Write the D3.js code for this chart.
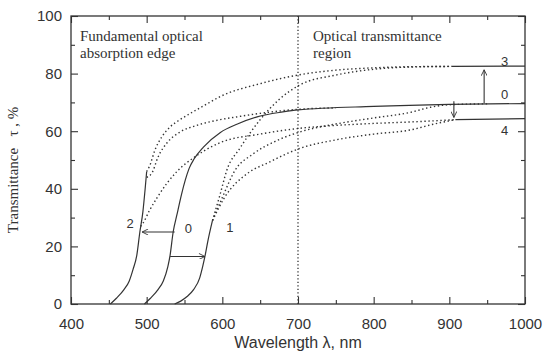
<!DOCTYPE html>
<html>
<head>
<meta charset="utf-8">
<script src="https://cdn.jsdelivr.net/npm/d3@7"></script>
<style>
  body { margin: 0; background: #fff; }
  svg { display: block; }
  .tick-label { font-family: "Liberation Sans", Arial, sans-serif; font-size: 15px; fill: #333; }
  .serif { font-family: "Liberation Serif", "DejaVu Serif", serif; fill: #333; }
</style>
</head>
<body>
<script>
// x ticks and y ticks
var xTicks = [400, 500, 600, 700, 800, 900, 1000];
var yTicks = [0, 20, 40, 60, 80, 100];

// solid parts [wavelength nm, transmittance %]
var curve0 = [[497,0],[505,2],[515,5],[522,8],[528,13],[531,17],[535,25],[540,31],[546,38],[551,43],[556,47],[563,50.5],[575,54.5],[597,59.5],[620,62.5],[646,65],[680,66.7],[700,67.4],[800,68.6],[900,69.3],[1000,69.6]];
var curve2 = [[452,0],[460,2],[470,5],[477,8],[482,12],[487,17],[491,25],[495,32],[498,40],[500,46]];
var curve1 = [[537,0],[545,1],[553,2.5],[562,5],[570,9],[574,13],[577,16.5],[581,22],[587,29]];
var curve3 = [[903,82.5],[1000,82.6]];
var curve4 = [[908,64],[1000,64.4]];

// dotted branches
var branch2to3 = [[500,46],[504,48],[511,53.5],[520,58],[531,61.5],[544,64],[561,66.7],[580,69.5],[597,72],[650,76.5],[700,79.5],[750,81.2],[800,82],[850,82.4],[903,82.5]];
var branch2to0 = [[500,44],[507,45.5],[515,51],[527,56],[544,59.7],[566,62],[597,64],[620,65],[650,66.2],[700,67.6],[750,68.1]];
var branch2to4 = [[492,27],[495,28],[504,32.6],[514,37],[527,42],[540,46],[566,51.5],[597,56],[650,59],[702,61],[750,62],[800,62.7],[848,63.2],[908,64]];
var branch1to3 = [[587,29],[597,38],[606,46.5],[623,54],[650,64],[675,71],[702,76],[750,79.5],[800,81.5],[850,82.3],[903,82.5]];
var branch1to0 = [[587,29],[600,37],[617,46.5],[640,52],[670,56.5],[702,59.7],[750,62.5],[800,64.6],[848,66.5],[875,68.3],[900,69.2],[950,69.5]];
var branch1to4 = [[587,29],[603,37],[634,45.5],[660,49],[702,54],[750,57],[800,59],[848,60.4],[880,62.5],[908,64]];

var arrows = [[537,25,494,25],[531,16.5,577,16.5],[946,69.7,946,81.3],[906,70.4,906,64.8]];
var curveLabels = [['2',478,28],['0',555,26.4],['1',610,26.7],['3',973,84.3],['0',973,72.6],['4',973,60.4]];

var margin = {top: 16, right: 19, bottom: 49, left: 71};
var width = 544 - margin.left - margin.right;
var height = 353 - margin.top - margin.bottom;
var ink = '#333';

var svg = d3.select('body').append('svg')
  .attr('width', 544)
  .attr('height', 353);

var g = svg.append('g')
  .attr('transform', 'translate(' + margin.left + ',' + margin.top + ')');

var x = d3.scaleLinear().domain([400, 1000]).range([0, width]);
var y = d3.scaleLinear().domain([0, 100]).range([height, 0]);

// axes with inward ticks
function styleAxis(sel) {
  sel.select('.domain').remove();
  sel.selectAll('line').attr('stroke', ink).attr('stroke-width', 1.1);
}
var xMinor = d3.range(450, 1000, 100);
var yMinor = d3.range(10, 100, 20);

g.append('g').attr('transform', 'translate(0,' + height + ')')
  .call(d3.axisBottom(x).tickValues(xTicks).tickSize(-7).tickPadding(14).tickFormat(d3.format('d')))
  .call(styleAxis)
  .call(function(s) { s.selectAll('text').attr('class', 'tick-label').attr('font-size', null).attr('font-family', null); });
g.append('g').attr('transform', 'translate(0,' + height + ')')
  .call(d3.axisBottom(x).tickValues(xMinor).tickSize(-4).tickFormat(''))
  .call(styleAxis);
g.append('g')
  .call(d3.axisTop(x).tickValues(xTicks).tickSize(-7).tickFormat(''))
  .call(styleAxis);
g.append('g')
  .call(d3.axisTop(x).tickValues(xMinor).tickSize(-4).tickFormat(''))
  .call(styleAxis);

g.append('g')
  .call(d3.axisLeft(y).tickValues(yTicks).tickSize(-7).tickPadding(9))
  .call(styleAxis)
  .call(function(s) { s.selectAll('text').attr('class', 'tick-label').attr('font-size', null).attr('font-family', null); });
g.append('g')
  .call(d3.axisLeft(y).tickValues(yMinor).tickSize(-4).tickFormat(''))
  .call(styleAxis);
g.append('g').attr('transform', 'translate(' + width + ',0)')
  .call(d3.axisRight(y).tickValues(yTicks).tickSize(-7).tickFormat(''))
  .call(styleAxis);
g.append('g').attr('transform', 'translate(' + width + ',0)')
  .call(d3.axisRight(y).tickValues(yMinor).tickSize(-4).tickFormat(''))
  .call(styleAxis);

// frame
g.append('rect')
  .attr('width', width).attr('height', height)
  .attr('fill', 'none').attr('stroke', ink).attr('stroke-width', 1.3);

// 700 nm divider
g.append('line')
  .attr('x1', x(700)).attr('x2', x(700))
  .attr('y1', y(0)).attr('y2', y(100))
  .attr('stroke', ink).attr('stroke-width', 1.3)
  .attr('stroke-dasharray', '1.3,2.2');

var line = d3.line()
  .x(function(d) { return x(d[0]); })
  .y(function(d) { return y(d[1]); })
  .curve(d3.curveMonotoneX);

[branch2to3, branch2to0, branch2to4, branch1to3, branch1to0, branch1to4].forEach(function(c) {
  g.append('path').datum(c)
    .attr('d', line)
    .attr('fill', 'none').attr('stroke', ink)
    .attr('stroke-width', 1.4)
    .attr('stroke-dasharray', '1.4,2.6');
});

[curve0, curve1, curve2, curve3, curve4].forEach(function(c) {
  g.append('path').datum(c)
    .attr('d', line)
    .attr('fill', 'none').attr('stroke', ink)
    .attr('stroke-width', 1.2);
});

// arrows
svg.append('defs').append('marker')
  .attr('id', 'head')
  .attr('viewBox', '0 0 10 10')
  .attr('refX', 10).attr('refY', 5)
  .attr('markerWidth', 9).attr('markerHeight', 6)
  .attr('markerUnits', 'userSpaceOnUse')
  .attr('orient', 'auto')
  .append('path').attr('d', 'M0,0L10,5L0,10').attr('fill', 'none').attr('stroke', ink).attr('stroke-width', 1.5);

arrows.forEach(function(a) {
  g.append('line')
    .attr('x1', x(a[0])).attr('y1', y(a[1]))
    .attr('x2', x(a[2])).attr('y2', y(a[3]))
    .attr('stroke', ink).attr('stroke-width', 1.1)
    .attr('marker-end', 'url(#head)');
});

g.selectAll('.clabel').data(curveLabels).enter().append('text')
  .attr('class', 'tick-label')
  .attr('x', function(d) { return x(d[1]); })
  .attr('y', function(d) { return y(d[2]); })
  .attr('dy', '0.35em')
  .attr('text-anchor', 'middle')
  .style('font-size', '13px')
  .text(function(d) { return d[0]; });

// region notes
var notes = [['Fundamental optical', 9, 24.5], ['absorption edge', 9, 41.5], ['Optical transmittance', 242, 24.5], ['region', 242, 41.5]];
g.selectAll('.note').data(notes).enter().append('text')
  .attr('class', 'serif')
  .attr('x', function(d) { return d[1]; })
  .attr('y', function(d) { return d[2]; })
  .style('font-size', '15px')
  .text(function(d) { return d[0]; });

// axis titles
svg.append('text')
  .attr('class', 'tick-label')
  .attr('x', 298).attr('y', 348)
  .attr('text-anchor', 'middle')
  .style('font-size', '16px')
  .text('Wavelength \u03bb, nm');

svg.append('text')
  .attr('class', 'serif')
  .attr('transform', 'translate(18,170) rotate(-90)')
  .attr('text-anchor', 'middle')
  .style('font-size', '15px')
  .attr('xml:space', 'preserve')
  .text('Transmittance   \u03c4 , %');
</script>
</body>
</html>
